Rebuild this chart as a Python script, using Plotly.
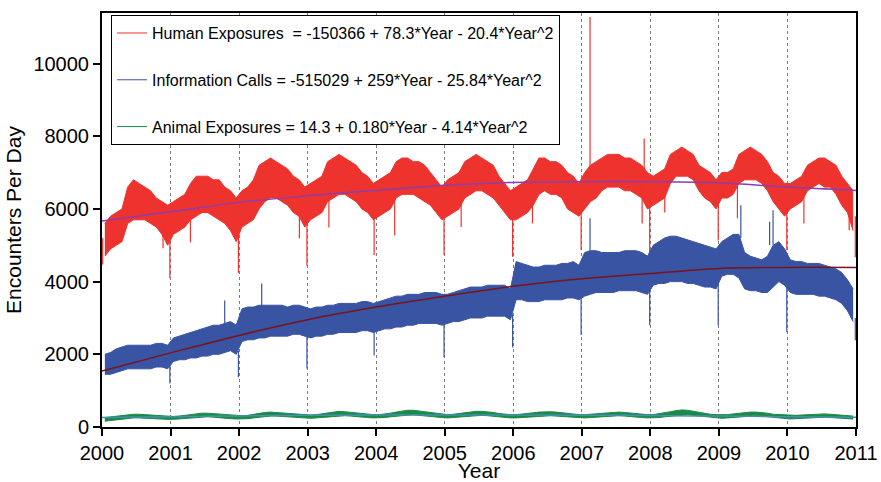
import plotly.graph_objects as go

# ---------------- data ----------------
years = list(range(2000, 2011))

human_lo = [
    4700, 4900, 5000, 5100, 5600, 5700, 5700, 5700, 5600, 5500, 5300, 5000,
    5300, 5400, 5500, 5700, 5800, 5900, 5900, 5800, 5700, 5600, 5400, 5100,
    5500, 5600, 5700, 6000, 6200, 6300, 6300, 6200, 6100, 5900, 5800, 5500,
    5700, 5800, 5900, 6200, 6300, 6400, 6400, 6300, 6200, 6000, 5900, 5700,
    5800, 5900, 6000, 6300, 6400, 6400, 6400, 6300, 6200, 6100, 5900, 5700,
    5800, 5900, 6000, 6300, 6400, 6500, 6500, 6400, 6300, 6100, 5900, 5700,
    5700, 5800, 5900, 6100, 6400, 6500, 6400, 6400, 6300, 6000, 5900, 5800,
    6000, 6200, 6300, 6500, 6600, 6600, 6600, 6500, 6500, 6400, 6300, 6000,
    6100, 6200, 6300, 6700, 6900, 6900, 6900, 6800, 6500, 6300, 6200, 6000,
    6300, 6300, 6400, 6700, 6800, 6800, 6800, 6700, 6500, 6200, 6000, 5800,
    6000, 6100, 6200, 6500, 6600, 6700, 6600, 6600, 6400, 6100, 5900, 5400,
]
human_hi = [
    5600, 5800, 5900, 6000, 6600, 6800, 6700, 6600, 6500, 6300, 6200, 6100,
    6200, 6300, 6400, 6700, 6900, 6900, 6900, 6800, 6800, 6600, 6500, 6300,
    6500, 6600, 6800, 7200, 7300, 7400, 7300, 7200, 7100, 6900, 6800, 6600,
    6700, 6800, 6900, 7300, 7400, 7500, 7400, 7300, 7200, 7000, 6900, 6700,
    6800, 6900, 7000, 7300, 7400, 7400, 7300, 7300, 7200, 7000, 6800, 6600,
    6800, 6900, 7000, 7300, 7400, 7500, 7400, 7300, 7200, 6900, 6700, 6500,
    6600, 6700, 6800, 7100, 7400, 7400, 7300, 7300, 7200, 7000, 6900, 6700,
    7000, 7200, 7300, 7400, 7500, 7500, 7500, 7400, 7400, 7300, 7200, 7000,
    6900, 7000, 7100, 7500, 7600, 7700, 7600, 7500, 7200, 7100, 7000, 6800,
    7000, 7000, 7100, 7500, 7600, 7700, 7600, 7500, 7300, 7000, 6900, 6700,
    6700, 6800, 6900, 7200, 7300, 7400, 7400, 7300, 7200, 6900, 6700, 6500,
]
info_lo = [
    1450, 1450, 1500, 1550, 1600, 1600, 1600, 1600, 1600, 1650, 1650, 1600,
    1800, 1850, 1850, 1900, 1900, 1950, 1950, 2000, 2000, 2050, 2100, 2000,
    2350, 2400, 2400, 2450, 2450, 2500, 2500, 2500, 2500, 2550, 2550, 2500,
    2450, 2500, 2500, 2550, 2550, 2600, 2600, 2600, 2600, 2650, 2650, 2600,
    2650, 2700, 2700, 2750, 2750, 2800, 2800, 2850, 2850, 2850, 2850, 2800,
    2850, 2900, 2900, 2950, 3000, 3000, 3000, 3050, 3050, 3050, 3050, 2950,
    3500, 3500, 3450, 3450, 3450, 3500, 3500, 3500, 3500, 3550, 3550, 3500,
    3600, 3650, 3700, 3700, 3700, 3700, 3750, 3750, 3750, 3750, 3700, 3650,
    3900, 3950, 3950, 4000, 4000, 4000, 3950, 3950, 3900, 3850, 3850, 3800,
    4150, 4200, 4200, 4100, 3800, 3750, 3750, 3700, 3700, 3850, 4000, 3900,
    3700, 3650, 3650, 3650, 3650, 3600, 3600, 3550, 3500, 3400, 3200, 2900,
]
info_hi = [
    2000, 2050, 2150, 2200, 2250, 2250, 2250, 2250, 2250, 2300, 2300, 2250,
    2450, 2500, 2550, 2600, 2650, 2700, 2750, 2800, 2800, 2850, 2900, 2800,
    3250, 3300, 3300, 3350, 3350, 3350, 3350, 3350, 3300, 3350, 3350, 3300,
    3250, 3300, 3300, 3350, 3350, 3400, 3400, 3400, 3400, 3450, 3450, 3400,
    3450, 3500, 3550, 3600, 3600, 3650, 3650, 3650, 3700, 3700, 3700, 3650,
    3650, 3700, 3750, 3800, 3850, 3850, 3850, 3900, 3900, 3900, 3900, 3800,
    4550, 4500, 4450, 4400, 4400, 4450, 4450, 4450, 4500, 4500, 4550, 4450,
    4800, 4850, 4850, 4800, 4800, 4800, 4800, 4850, 4850, 4850, 4800, 4700,
    5000, 5100, 5200, 5250, 5250, 5200, 5150, 5100, 5050, 5000, 4950, 4900,
    5100, 5200, 5300, 5300, 4800, 4700, 4650, 4600, 4700, 5000, 5100, 4900,
    4600, 4550, 4550, 4500, 4500, 4500, 4450, 4400, 4350, 4250, 4050, 3800,
]
animal_lo = [
    160, 180, 200, 220, 240, 250, 250, 240, 230, 230, 220, 210,
    210, 220, 230, 250, 270, 280, 280, 270, 250, 240, 230, 220,
    220, 230, 250, 270, 290, 300, 300, 290, 270, 260, 250, 240,
    240, 250, 260, 280, 300, 310, 310, 300, 280, 270, 260, 250,
    250, 260, 280, 300, 320, 340, 340, 320, 300, 280, 270, 260,
    250, 260, 270, 290, 310, 320, 320, 310, 290, 270, 260, 250,
    250, 260, 270, 280, 300, 310, 310, 300, 290, 270, 260, 250,
    250, 260, 270, 280, 300, 310, 310, 300, 280, 270, 260, 250,
    250, 260, 280, 300, 320, 340, 340, 320, 300, 280, 260, 250,
    240, 250, 260, 280, 300, 310, 310, 300, 280, 260, 250, 240,
    220, 230, 240, 250, 260, 270, 270, 260, 250, 240, 230, 220,
]
animal_hi = [
    260, 280, 300, 320, 340, 350, 350, 340, 320, 310, 300, 290,
    290, 300, 320, 350, 370, 380, 380, 370, 350, 330, 320, 310,
    310, 320, 350, 380, 400, 410, 400, 390, 370, 350, 340, 330,
    330, 340, 360, 390, 420, 430, 420, 400, 380, 360, 350, 340,
    340, 350, 380, 410, 440, 460, 460, 440, 410, 380, 360, 350,
    340, 350, 370, 400, 420, 430, 430, 420, 400, 370, 350, 340,
    340, 350, 360, 390, 410, 420, 420, 410, 390, 370, 350, 340,
    340, 350, 360, 380, 400, 410, 410, 400, 380, 360, 350, 340,
    340, 360, 390, 420, 450, 470, 460, 430, 400, 370, 350, 340,
    330, 340, 360, 380, 400, 410, 410, 400, 380, 350, 340, 330,
    310, 320, 330, 340, 350, 360, 360, 350, 340, 320, 310, 300,
]

# isolated daily spikes (date as decimal year, band value, spike value)
human_spike_t = [2000.01, 2000.89, 2000.99, 2001.29, 2001.99, 2002.88, 2002.99, 2003.31,
                 2003.97, 2004.27, 2004.99, 2005.24, 2005.99, 2006.28, 2006.99, 2007.12,
                 2007.88, 2007.91, 2007.99, 2008.21, 2008.99, 2009.27, 2009.99, 2010.24,
                 2010.90, 2010.99]
human_spike_base = [5200, 5700, 5600, 5800, 5700, 6300, 6000, 6300, 6200, 6400, 6200, 6400,
                    6100, 6500, 6300, 7000, 6700, 7000, 6500, 6600, 6600, 6800, 6300, 6600,
                    6200, 5800]
human_spike_v = [4470, 4920, 4100, 5080, 4240, 5190, 4430, 5490, 4730, 5270, 4730, 5500,
                 4680, 5600, 4870, 11280, 5600, 7940, 4770, 5900, 5130, 5740, 4860, 5600,
                 5410, 4670]

info_spike_t = [2000.99, 2001.79, 2001.99, 2002.33, 2002.99, 2003.97, 2004.99, 2005.99,
                2006.99, 2007.12, 2007.99, 2008.99, 2009.32, 2009.74, 2009.79, 2009.99, 2010.99]
info_spike_base = [1700, 2800, 2100, 3300, 2550, 2700, 2900, 3100, 3600, 4800, 3800, 3900,
                   5200, 5000, 5000, 3900, 3000]
info_spike_v = [1200, 3480, 1370, 3950, 1610, 1970, 1920, 2190, 2530, 5740, 2800, 2800,
                6100, 5650, 5960, 2610, 2390]

# quadratic trend lines, read at each year boundary
fit_years = list(range(2000, 2012))
human_fit = [5670, 5920, 6180, 6360, 6510, 6650, 6730, 6750, 6750, 6720, 6600, 6510]
info_fit = [1540, 2040, 2520, 2950, 3300, 3600, 3870, 4080, 4220, 4360, 4390, 4390]
animal_fit = [260, 285, 305, 320, 330, 330, 330, 325, 315, 300, 285, 270]

y_ticks = [0, 2000, 4000, 6000, 8000, 10000]
x_ticks = list(range(2000, 2012))

labels = [
    "Human Exposures  = -150366 + 78.3*Year - 20.4*Year^2",
    "Information Calls = -515029 + 259*Year - 25.84*Year^2",
    "Animal Exposures = 14.3 + 0.180*Year - 4.14*Year^2",
]

RED = "rgb(238,50,46)"
BLUE = "rgb(58,84,164)"
GREEN = "rgb(26,138,72)"
PURPLE = "rgb(140,62,170)"
DARKRED = "rgb(120,20,28)"
TEAL = "rgb(70,145,165)"

# month centres as decimal years
t = [y + (m + 0.5) / 12 for y in years for m in range(12)]

fig = go.Figure()


def band(lo, hi, color):
    fig.add_trace(go.Scatter(x=t, y=lo, mode="lines", line=dict(color=color, width=1),
                             showlegend=False, hoverinfo="skip"))
    fig.add_trace(go.Scatter(x=t, y=hi, mode="lines", line=dict(color=color, width=1),
                             fill="tonexty", fillcolor=color, showlegend=False, hoverinfo="skip"))


def spikes(ts, base, vals, color):
    xs, ys = [], []
    for a, b, c in zip(ts, base, vals):
        xs += [a, a, None]
        ys += [b, c, None]
    fig.add_trace(go.Scatter(x=xs, y=ys, mode="lines", line=dict(color=color, width=1.2),
                             showlegend=False, hoverinfo="skip"))


band(human_lo, human_hi, RED)
spikes(human_spike_t, human_spike_base, human_spike_v, RED)
band(info_lo, info_hi, BLUE)
spikes(info_spike_t, info_spike_base, info_spike_v, BLUE)
band(animal_lo, animal_hi, GREEN)

fig.add_trace(go.Scatter(x=fit_years, y=human_fit, mode="lines",
                         line=dict(color=PURPLE, width=1.5, shape="spline"), showlegend=False))
fig.add_trace(go.Scatter(x=fit_years, y=info_fit, mode="lines",
                         line=dict(color=DARKRED, width=1.5, shape="spline"), showlegend=False))
fig.add_trace(go.Scatter(x=fit_years, y=animal_fit, mode="lines",
                         line=dict(color=TEAL, width=1.5, shape="spline"), showlegend=False))

# legend entries
for i, (lab, col) in enumerate(zip(labels, [RED, BLUE, GREEN])):
    fig.add_trace(go.Scatter(x=[None], y=[None], mode="lines", name=lab,
                             line=dict(color=col, width=1), legendgroup=f"g{i}"))

FONT = "Liberation Sans, Arial, sans-serif"
fig.update_layout(
    width=881, height=482,
    margin=dict(l=102, r=25, t=13, b=55),
    paper_bgcolor="white", plot_bgcolor="white",
    font=dict(family=FONT, color="black"),
    showlegend=True,
    legend=dict(x=0.012, y=0.995, xanchor="left", yanchor="top",
                bgcolor="white", bordercolor="black", borderwidth=1,
                font=dict(size=16, family=FONT), tracegroupgap=23,
                itemwidth=30, traceorder="grouped"),
    xaxis=dict(range=[2000, 2011], tickmode="array", tickvals=x_ticks,
               ticktext=[str(v) for v in x_ticks], automargin=False,
               showline=True, linecolor="black", linewidth=2, mirror=True,
               ticks="outside", ticklen=7, tickcolor="black", tickwidth=1.5,
               showgrid=True, gridcolor="rgb(125,125,125)", griddash="dot", gridwidth=1,
               zeroline=False, tickfont=dict(size=20),
               title=dict(text="Year", font=dict(size=21), standoff=21)),
    yaxis=dict(range=[0, 11390], tickmode="array", tickvals=y_ticks,
               ticktext=[str(v) for v in y_ticks], automargin=False,
               showline=True, linecolor="black", linewidth=2, mirror=True,
               ticks="outside", ticklen=7, tickcolor="black", tickwidth=1.5,
               showgrid=False, zeroline=False, tickfont=dict(size=20),
               title=dict(text="Encounters Per Day", font=dict(size=21), standoff=6)),
)

fig.write_html("out.html")
